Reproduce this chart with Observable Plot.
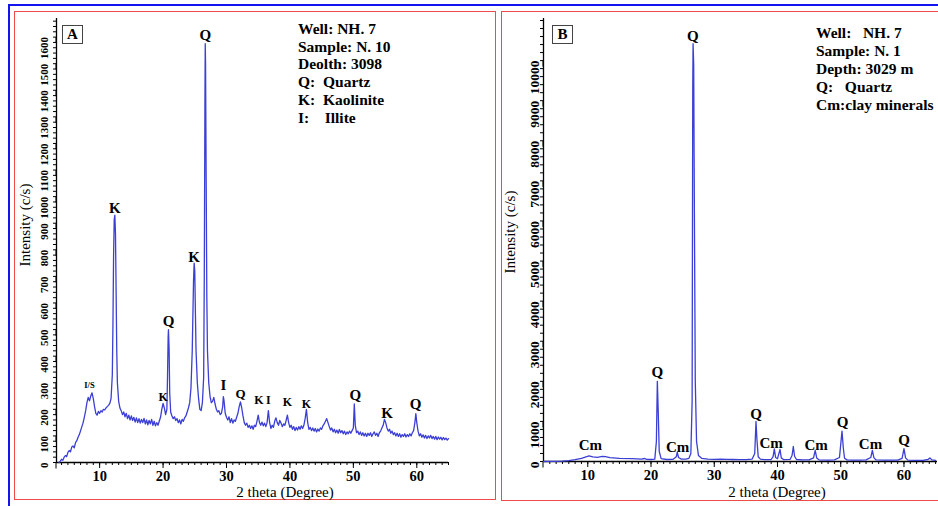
<!DOCTYPE html>
<html>
<head>
<meta charset="utf-8">
<script src="https://cdn.jsdelivr.net/npm/d3@7"></script>
<script src="https://cdn.jsdelivr.net/npm/@observablehq/plot@0.6"></script>
<style>
  html, body { margin: 0; padding: 0; background: #fff; }
  #root { position: relative; width: 938px; height: 506px; overflow: hidden; background: #fff;
          font-family: "Liberation Serif", "Times New Roman", serif; }
  .abs { position: absolute; }
  .blueTop { left: 8px; top: 4px; width: 940px; height: 0; border-top: 2.5px solid #1414f0; }
  .blueLeft { left: 8px; top: 4px; width: 0; height: 510px; border-left: 2.5px solid #1414f0; }
  .redFrame { border: 1.4px solid #f04a4a; box-sizing: border-box; }
  .legend { font-weight: bold; font-size: 15.5px; line-height: 17.7px; white-space: pre; color: #000; }
  .axlab { font-size: 15px; color: #000; white-space: nowrap; }
  .panelTag { border: 1px solid #444; box-sizing: border-box; font-weight: bold; font-size: 15px;
              text-align: center; line-height: 17px; color: #000; background: #fff; }
  svg { overflow: visible; }
</style>
</head>
<body>
<div id="root">
  <div class="abs blueTop"></div>
  <div class="abs blueLeft"></div>
  <div class="abs redFrame" style="left:14px; top:11px; width:482px; height:489px;"></div>
  <div class="abs redFrame" style="left:501px; top:11px; width:460px; height:490px;"></div>
</div>
<script>
// ---------------- Data: panel A (Well NH. 7, Sample N. 10) ----------------
const twoThetaA = [
  3.6,3.8,4.0,4.2,4.4,4.6,4.8,5.0,5.2,5.4,5.6,5.8,6.0,6.2,6.4,6.6,6.8,7.0,7.2,7.4,7.6,7.8,8.0,8.2,8.4,8.6,8.8,9.0,9.2,9.4,9.6,9.8,
  10.0,10.2,10.4,10.6,10.8,11.0,11.2,11.4,11.6,11.8,12.0,12.1,12.2,12.3,12.4,12.5,12.6,12.7,12.8,13.0,13.2,13.4,13.6,13.8,
  14.0,14.2,14.4,14.6,14.8,15.0,15.2,15.4,15.6,15.8,16.0,16.2,16.4,16.6,16.8,17.0,17.2,17.4,17.6,17.8,18.0,18.2,18.4,18.6,18.8,
  19.0,19.2,19.4,19.6,19.8,20.0,20.2,20.4,20.6,20.7,20.8,20.85,20.95,21.05,21.2,21.4,21.6,21.8,22.0,22.2,22.4,22.6,22.8,
  23.0,23.2,23.4,23.6,23.8,24.0,24.2,24.4,24.6,24.8,24.9,25.0,25.1,25.2,25.4,25.6,25.8,26.0,26.2,26.4,26.5,26.6,26.65,26.7,26.8,26.9,
  27.0,27.2,27.4,27.6,27.8,28.0,28.2,28.4,28.6,28.8,29.0,29.2,29.4,29.5,29.6,29.8,30.0,30.2,30.4,30.6,30.8,31.0,31.2,31.4,31.6,31.8,
  32.0,32.2,32.4,32.6,32.8,33.0,33.2,33.4,33.6,33.8,34.0,34.2,34.4,34.6,34.8,35.0,35.2,35.4,35.6,35.8,36.0,36.2,36.4,36.6,36.8,
  37.0,37.2,37.4,37.6,37.8,38.0,38.2,38.4,38.6,38.8,39.0,39.2,39.4,39.6,39.8,40.0,40.2,40.4,40.6,40.8,41.0,41.2,41.4,41.6,41.8,
  42.0,42.2,42.4,42.6,42.8,43.0,43.2,43.4,43.6,43.8,44.0,44.2,44.4,44.6,44.8,45.0,45.2,45.4,45.6,45.8,46.0,46.2,46.4,46.6,46.8,
  47.0,47.2,47.4,47.6,47.8,48.0,48.2,48.4,48.6,48.8,49.0,49.2,49.4,49.6,49.8,50.0,50.15,50.3,50.5,50.7,50.9,51.1,51.3,51.5,51.7,51.9,
  52.1,52.3,52.5,52.7,52.9,53.1,53.3,53.5,53.7,53.9,54.1,54.3,54.5,54.7,54.9,55.1,55.3,55.5,55.7,55.9,56.1,56.3,56.5,56.7,56.9,
  57.1,57.3,57.5,57.7,57.9,58.1,58.3,58.5,58.7,58.9,59.1,59.3,59.5,59.7,59.85,60.0,60.2,60.4,60.6,60.8,61.0,61.2,61.4,61.6,61.8,
  62.0,62.2,62.4,62.6,62.8,63.0,63.2,63.4,63.6,63.8,64.0,64.2,64.4,64.6,64.8,65.0
];
const intensityA = [
  0,5,12,8,20,26,22,38,45,40,58,62,55,75,82,95,105,120,135,150,172,195,225,245,232,250,262,240,210,185,178,192,
  185,195,190,200,198,205,210,215,222,240,330,520,780,915,930,860,640,420,300,230,205,195,180,190,
  172,185,165,178,160,175,158,170,152,168,150,165,148,162,150,166,145,160,142,158,145,162,140,155,138,
  150,140,155,170,200,222,205,180,200,320,470,500,430,260,190,175,165,172,158,165,150,160,145,
  162,155,168,175,190,205,225,280,420,680,750,720,560,420,300,240,200,195,225,320,700,1350,1575,1500,1050,620,
  420,300,250,225,230,245,220,200,190,195,180,185,210,248,235,185,170,160,172,150,165,148,160,155,170,185,
  210,228,205,175,150,140,148,132,140,128,138,125,140,135,155,178,150,140,152,138,148,135,150,195,150,
  128,140,132,155,168,150,140,158,148,135,145,140,158,178,150,132,140,125,135,120,132,122,135,125,138,
  128,140,165,200,150,125,132,120,130,118,128,115,126,118,130,125,138,145,155,165,150,135,122,130,115,
  125,112,122,110,124,112,120,108,118,105,115,108,118,110,120,130,220,140,112,118,105,115,102,112,100,110,
  98,110,102,112,98,108,115,102,110,98,112,118,130,140,162,150,130,118,125,110,118,105,112,100,110,
  98,108,95,105,98,108,96,105,98,108,100,112,120,150,184,150,118,100,108,95,104,92,102,90,100,
  92,102,90,98,88,98,86,96,88,95,85,94,86,92,84,90
];
const xDomainA = [3.2, 65];
const yDomainA = [0, 1670];
const peakTextA = ["I/S","K","K","Q","K","Q","I","Q","K","I","K","K","Q","K","Q"];
const peakXA    = [8.4, 12.4, 20.0, 20.85, 24.9, 26.65, 29.5, 32.2, 35.1, 36.6, 39.6, 42.6, 50.3, 55.3, 59.8];
const peakYA    = [290, 958, 245, 530, 774, 1609, 290, 258, 233, 233, 226, 221, 252, 185, 218];
const peakSizeA = [8.5, 15, 12, 15, 15, 15, 15, 13, 12, 12, 12, 12, 15, 15, 15];

// ---------------- Data: panel B (Well NH. 7, Sample N. 1) ----------------
const twoThetaB = [
  3.0,4,5,6,7,8,9,9.6,10.2,10.8,11.5,12.3,12.8,13.5,15,17,18.5,19.0,19.3,20,20.6,20.85,21.0,21.15,21.3,21.6,22.5,23.5,
  24.0,24.15,24.35,24.8,25.5,26.0,26.3,26.5,26.6,26.65,26.75,26.85,27.0,27.2,27.5,28,29,30,31,32,33,34,35,36,
  36.4,36.6,36.75,36.95,37.3,38,39,39.3,39.5,39.7,40.0,40.4,40.6,41,42,42.3,42.5,42.7,43,44,45,45.7,45.96,46.2,46.6,
  48,49,49.8,50.2,50.4,50.6,51,52,53,54,54.75,55.0,55.25,55.6,57,59,59.7,60.0,60.25,60.6,62,63,63.8,64.1,64.4,65
];
const intensityB = [
  0,2,5,10,20,45,80,110,140,115,105,130,120,95,80,70,60,75,55,50,60,500,2000,1200,250,70,50,55,
  120,232,100,60,60,80,200,1500,9300,10420,9900,6500,2000,500,150,80,60,55,60,55,50,45,45,60,
  200,1000,550,120,60,45,50,120,316,100,70,300,90,45,55,150,375,130,50,40,40,90,275,90,40,
  35,40,100,760,350,80,40,35,35,40,100,275,90,40,35,35,80,320,90,35,30,30,50,90,40,30
];
const xDomainB = [3.0, 65.3];
const yDomainB = [0, 11050];
const peakTextB = ["Cm","Q","Cm","Q","Q","Cm","Cm","Q","Cm","Q"];
const peakXB    = [10.4, 21.0, 24.2, 26.6, 36.6, 39.0, 46.1, 50.3, 54.7, 60.0];
const peakYB    = [400, 2227, 357, 10620, 1190, 457, 416, 980, 423, 540];

// ---------------- Axis ticks ----------------
const xMajorTicks = [10, 20, 30, 40, 50, 60];
const xMinorTicks = d3.range(4, 66, 1);
const yMajorA = d3.range(0, 1601, 100);
const yMinorA = d3.range(0, 1661, 20);
const yMajorB = d3.range(0, 10001, 1000);
const yMinorB = d3.range(0, 11001, 200);

const lineColor = "#3b3fd4";
const fontFam = "'Liberation Serif', 'Times New Roman', serif";

function panel({tt, ii, xDomain, yDomain, yMajor, yMinor, ptext, px, py, psize, width, height, margins, yFont, yPad}) {
  const data = tt.map((t, k) => ({t, v: ii[k]}));
  const labels = ptext.map((s, k) => ({s, x: px[k], y: py[k], f: psize ? psize[k] : 15}));
  return Plot.plot({
    width, height,
    ...margins,
    x: {domain: xDomain},
    y: {domain: yDomain},
    style: {fontFamily: fontFam, fontWeight: "bold", background: "transparent", color: "#000", overflow: "visible"},
    marks: [
      Plot.axisX({ticks: xMinorTicks, tickSize: 3, text: null, label: null}),
      Plot.axisX({ticks: xMajorTicks, tickSize: 6, tickPadding: 2, label: null, fontSize: 14.5, fontWeight: "bold", tickFormat: d3.format("d")}),
      Plot.axisY({ticks: yMinor, tickSize: 3, text: null, label: null}),
      Plot.axisY({ticks: yMajor, tickSize: 6, tickPadding: yPad, rotate: -90, label: null, fontSize: yFont, fontWeight: "bold", tickFormat: d3.format("d")}),
      Plot.ruleY([yDomain[0]], {stroke: "#000", strokeWidth: 1.3}),
      Plot.ruleX([xDomain[0]], {stroke: "#000", strokeWidth: 1.3}),
      Plot.line(data, {x: "t", y: "v", stroke: lineColor, strokeWidth: 1.3, curve: "linear"}),
      Plot.text(labels, {x: "x", y: "y", text: "s", fontSize: "f", fontWeight: "bold", fill: "#000", fontFamily: fontFam})
    ]
  });
}

const root = document.getElementById("root");

const svgA = panel({
  tt: twoThetaA, ii: intensityA, xDomain: xDomainA, yDomain: yDomainA, yMajor: yMajorA, yMinor: yMinorA,
  ptext: peakTextA, px: peakXA, py: peakYA, psize: peakSizeA,
  width: 481, height: 486, margins: {marginLeft: 42, marginRight: 47, marginTop: 6, marginBottom: 36}, yFont: 11, yPad: 6
});
svgA.style.position = "absolute"; svgA.style.left = "14px"; svgA.style.top = "12px";
root.appendChild(svgA);

const svgB = panel({
  tt: twoThetaB, ii: intensityB, xDomain: xDomainB, yDomain: yDomainB, yMajor: yMajorB, yMinor: yMinorB,
  ptext: peakTextB, px: peakXB, py: peakYB, psize: null,
  width: 437, height: 486, margins: {marginLeft: 42, marginRight: 1, marginTop: 6, marginBottom: 37}, yFont: 13.5, yPad: 3
});
svgB.style.position = "absolute"; svgB.style.left = "501px"; svgB.style.top = "12px";
root.appendChild(svgB);

// ---------------- Text blocks ----------------
function addDiv(cls, style, text) {
  const d = document.createElement("div");
  d.className = "abs " + cls;
  d.setAttribute("style", style);
  d.textContent = text;
  root.appendChild(d);
  return d;
}
const legendA = ["Well: NH. 7", "Sample: N. 10", "Deolth: 3098", "Q:  Quartz", "K:  Kaolinite", "I:    Illite"];
const legendB = ["Well:   NH. 7", "Sample: N. 1", "Depth: 3029 m", "Q:   Quartz", "Cm:clay minerals"];
addDiv("legend", "left:298px; top:20px;", legendA.join("\n"));
addDiv("legend", "left:816px; top:24px; line-height:17.9px;", legendB.join("\n"));

addDiv("panelTag", "left:62px; top:25px; width:21px; height:19px;", "A");
addDiv("panelTag", "left:552px; top:25px; width:21px; height:19px;", "B");

addDiv("axlab", "left:285px; top:492px; transform:translate(-50%,-50%);", "2 theta (Degree)");
addDiv("axlab", "left:777px; top:492px; transform:translate(-50%,-50%);", "2 theta (Degree)");
addDiv("axlab", "left:25px; top:225px; transform:translate(-50%,-50%) rotate(-90deg);", "Intensity (c/s)");
addDiv("axlab", "left:510px; top:232px; transform:translate(-50%,-50%) rotate(-90deg);", "Intensity (c/s)");
</script>
</body>
</html>
